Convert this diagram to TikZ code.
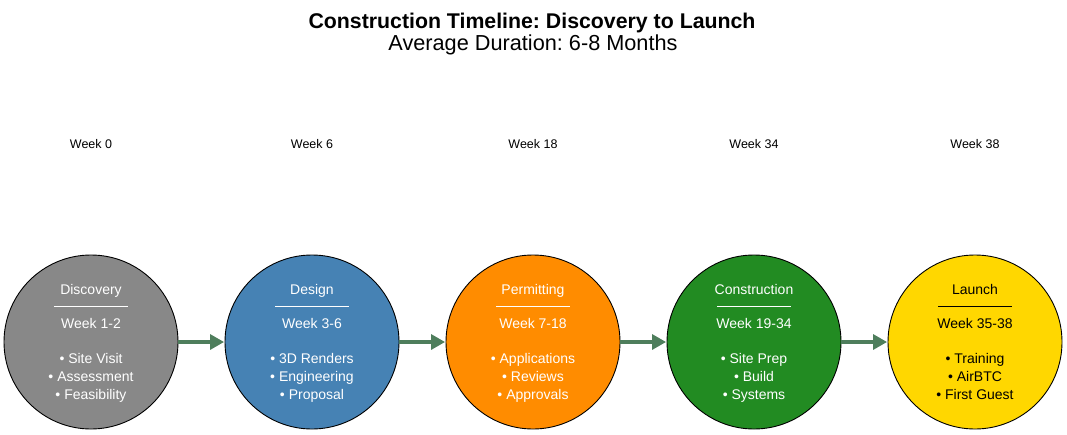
\documentclass[tikz,border=0pt]{standalone}
\usepackage{fontspec}
\setmainfont{Liberation Sans}
\frenchspacing
\usetikzlibrary{arrows.meta}
\begin{document}
\begin{tikzpicture}[x=1pt,y=-1pt,
  phase/.style={circle,draw=black,line width=0.9pt,minimum size=174pt,inner sep=0pt},
  ptext/.style={font=\fontsize{14}{17}\selectfont,anchor=base,inner sep=0pt},
  weeklbl/.style={font=\fontsize{12.5}{15}\selectfont,anchor=base,inner sep=0pt},
  flow/.style={draw={rgb,255:red,78;green,126;blue,92},line width=3.2pt,
    -{Triangle[length=14pt,width=15pt]},shorten >=0.5pt}
]
\useasboundingbox (0,0) rectangle (1067,434);
\definecolor{cgrey}{HTML}{888888}
\definecolor{cblue}{HTML}{4682B4}
\definecolor{corange}{HTML}{FF8C00}
\definecolor{cgreen}{HTML}{228B22}
\definecolor{cgold}{HTML}{FFD700}
\node[font=\bfseries\fontsize{21.3}{24}\selectfont,anchor=base,inner sep=0pt] (title) at (532,28) {Construction Timeline: Discovery to Launch};
\node[font=\fontsize{21.7}{24}\selectfont,anchor=base,inner sep=0pt] (sub) at (533,50) {Average Duration: 6-8 Months};
\foreach \n/\x/\w in {w0/91/Week 0,w6/312/Week 6,w18/533/Week 18,w34/754/Week 34,w38/975/Week 38}
  \node[weeklbl] (\n) at (\x,148.5) {\w};
\foreach \n/\x/\c/\t/\h/\wk/\a/\b/\d in {
  disc/91/cgrey/white/Discovery/Week 1-2/Site Visit/Assessment/Feasibility,
  des/312/cblue/white/Design/Week 3-6/3D Renders/Engineering/Proposal,
  perm/533/corange/white/Permitting/Week 7-18/Applications/Reviews/Approvals,
  cons/754/cgreen/white/Construction/Week 19-34/Site Prep/Build/Systems,
  laun/975/cgold/black/Launch/Week 35-38/Training/AirBTC/First Guest}
{
  \node[phase,fill=\c] (\n) at (\x,342) {};
  \node[ptext,text=\t] (\n-h) at (\x,294) {\h};
  \draw[\t,line width=1.3pt] (\x-37,306.5) -- (\x+37,306.5);
  \node[ptext,text=\t] (\n-w) at (\x,328) {\wk};
  \node[ptext,text=\t] (\n-a) at (\x,363.5) {• \a};
  \node[ptext,text=\t] (\n-b) at (\x,381.5) {• \b};
  \node[ptext,text=\t] (\n-d) at (\x,399.5) {• \d};
}
\draw[flow] (disc) -- (des);
\draw[flow] (des) -- (perm);
\draw[flow] (perm) -- (cons);
\draw[flow] (cons) -- (laun);
\end{tikzpicture}
\end{document}
